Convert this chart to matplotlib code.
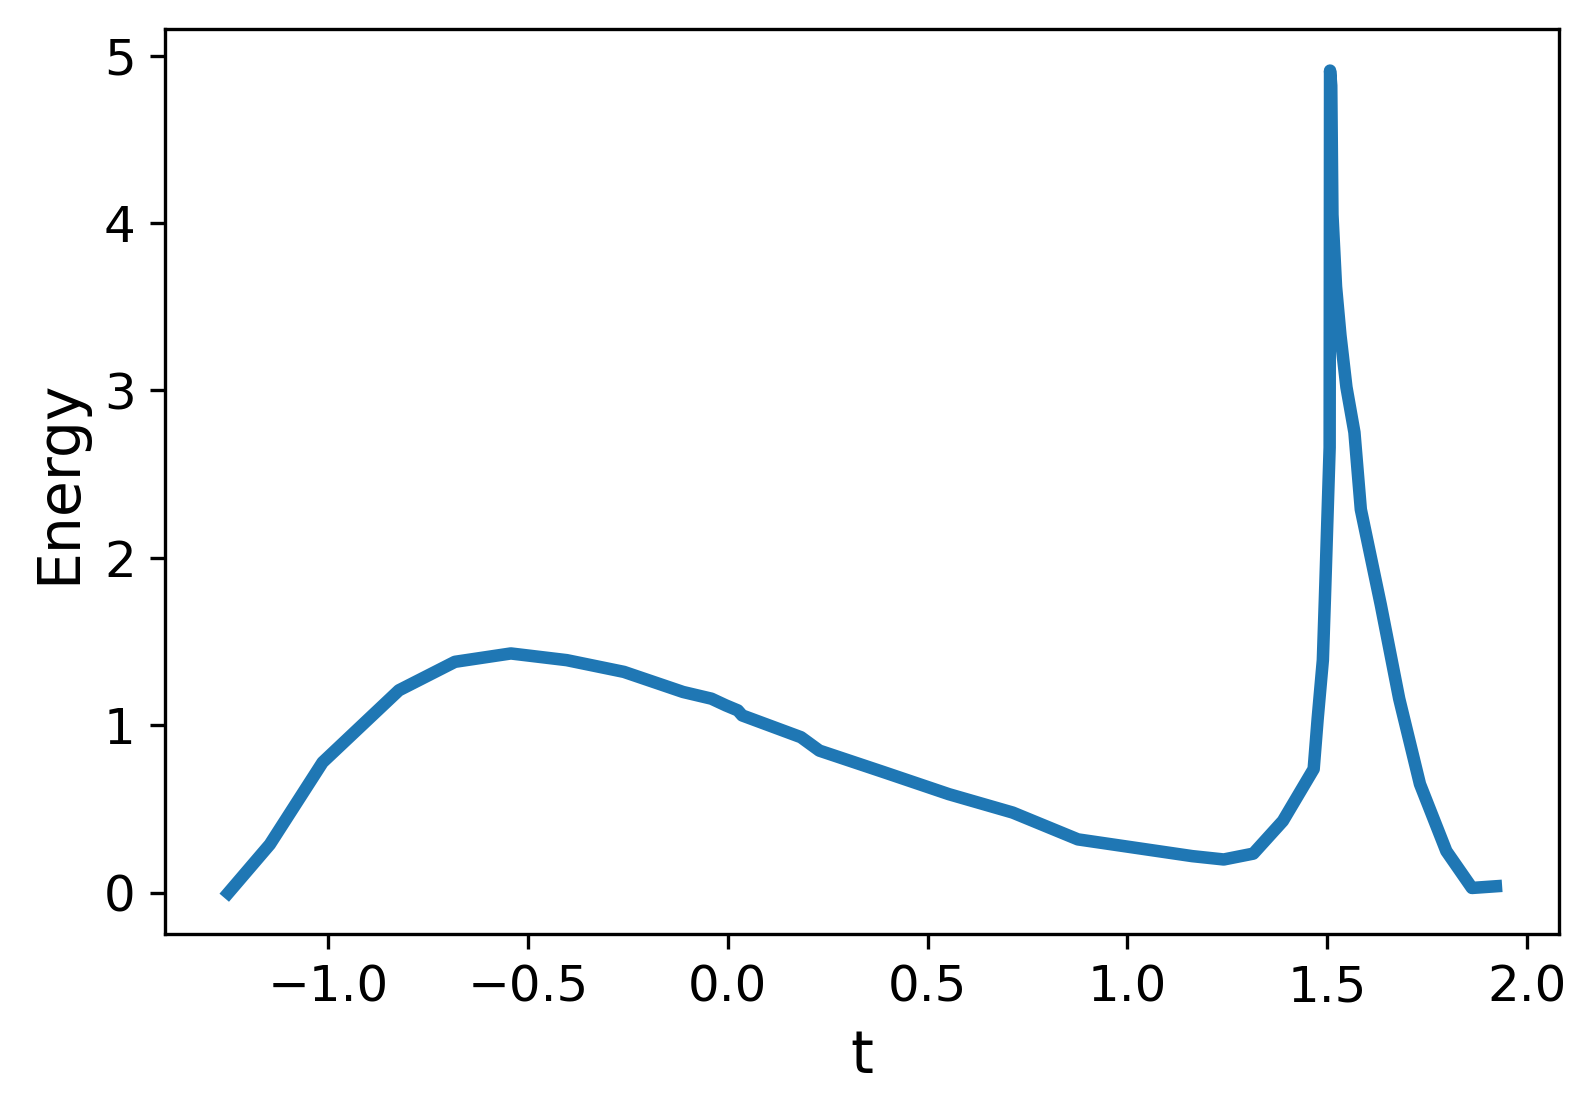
import numpy as np
import matplotlib.pyplot as plt

# energy along the path
t = [-1.250, -1.146, -1.014, -0.823, -0.683, -0.543, -0.403, -0.260, -0.186,
     -0.112, -0.041, -0.005, 0.025, 0.036, 0.183, 0.229, 0.392, 0.553, 0.713,
     0.876, 1.162, 1.241, 1.315, 1.389, 1.466, 1.476, 1.489, 1.494, 1.506,
     1.507, 1.510, 1.513, 1.522, 1.533, 1.548, 1.568, 1.584, 1.634, 1.680,
     1.732, 1.798, 1.862, 1.922]
energy = [0.0, 0.29, 0.78, 1.21, 1.38, 1.43, 1.39, 1.32, 1.26,
          1.20, 1.16, 1.12, 1.09, 1.06, 0.93, 0.85, 0.72, 0.59, 0.48,
          0.32, 0.22, 0.20, 0.235, 0.43, 0.74, 1.04, 1.39, 1.75, 2.66,
          4.91, 4.82, 4.05, 3.62, 3.33, 3.02, 2.75, 2.29, 1.72, 1.16,
          0.65, 0.25, 0.03, 0.04]

fig, ax = plt.subplots(figsize=(1595 / 300, 1116 / 300), dpi=300)
fig.subplots_adjust(left=0.1034, right=0.9776, top=0.9736, bottom=0.163)

ax.plot(t, energy, color='#1f77b4', linewidth=3)
ax.set_xlabel('t', fontsize=14)
ax.set_ylabel('Energy', fontsize=14)
ax.tick_params(labelsize=12)

fig.savefig('out.png', dpi=300)
